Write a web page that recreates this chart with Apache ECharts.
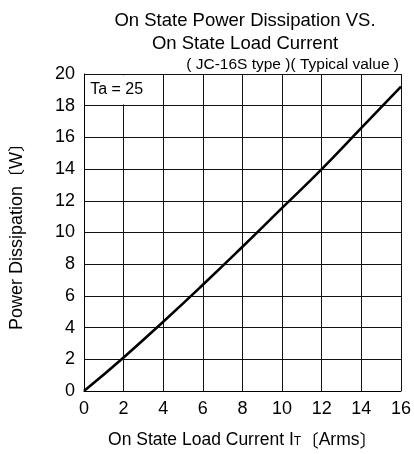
<!DOCTYPE html>
<html><head><meta charset="utf-8">
<script src="https://cdn.jsdelivr.net/npm/echarts@6/dist/echarts.min.js"></script>
<style>html,body{margin:0;padding:0;background:#fff}#c{width:414px;height:454px}</style>
</head><body><div id="c"></div>
<script>
const currentA = [0, 2, 4, 6, 8, 10, 12, 14, 16];
const powerW = [0, 2.12, 4.37, 6.7, 9.1, 11.55, 14.0, 16.6, 19.2];
const xTicks = [0, 2, 4, 6, 8, 10, 12, 14, 16];
const yTicks = [0, 2, 4, 6, 8, 10, 12, 14, 16, 18, 20];

const F = 'Liberation Sans, Arial, sans-serif';
const CJK = 'Noto Sans CJK JP';
const chart = echarts.init(document.getElementById('c'));
chart.setOption({
  animation: false,
  backgroundColor: '#fff',
  title: [
    {text: 'On State Power Dissipation VS.\nOn State Load Current', left: 240, top: 4, textAlign: 'center',
     textStyle: {fontFamily: F, fontSize: 18.5, fontWeight: 'normal', color: '#000', lineHeight: 23}},
    {text: '( JC-16S type )( Typical value )', right: 10, top: 52,
     textStyle: {fontFamily: F, fontSize: 15.5, fontWeight: 'normal', color: '#000', lineHeight: 16}}
  ],
  grid: {left: 84, right: 12, top: 74, bottom: 63},
  xAxis: {
    type: 'value', min: 0, max: 16, interval: 2,
    axisLine: {show: true, lineStyle: {color: '#000', width: 1}},
    axisTick: {show: false},
    splitLine: {show: true, lineStyle: {color: '#111', width: 1}},
    axisLabel: {fontFamily: F, fontSize: 18, color: '#000', margin: 9},
    name: '{n|On State Load Current I}{s|T}{b|〔}{n|Arms}{b|〕}', nameLocation: 'middle', nameGap: 40,
    nameTextStyle: {rich: {
      n: {fontFamily: F, fontSize: 17.5, color: '#000'},
      s: {fontFamily: F, fontSize: 12, color: '#000', padding: [4, 0, 0, 0]},
      b: {fontFamily: CJK, fontSize: 17.5, color: '#000'}}}
  },
  yAxis: {
    type: 'value', min: 0, max: 20, interval: 2,
    axisLine: {show: true, lineStyle: {color: '#000', width: 1}},
    axisTick: {show: false},
    splitLine: {show: true, lineStyle: {color: '#111', width: 1}},
    axisLabel: {fontFamily: F, fontSize: 18, color: '#000', margin: 9},
    name: '{n|Power Dissipation}{b|〔}{n|W}{b|〕}', nameLocation: 'middle', nameGap: 58,
    nameTextStyle: {rich: {
      n: {fontFamily: F, fontSize: 18, color: '#000'},
      b: {fontFamily: CJK, fontSize: 17, color: '#000'}}}
  },
  series: [{
    type: 'line', smooth: true, symbol: 'none',
    data: currentA.map((x, i) => [x, powerW[i]]),
    lineStyle: {color: '#000', width: 2.6},
    markArea: {
      silent: true,
      itemStyle: {color: '#fff', borderWidth: 0},
      label: {show: true, position: 'insideLeft', offset: [0, 0],
        formatter: 'Ta = 25', fontFamily: F, fontSize: 16, color: '#000'},
      data: [[{coord: [0.06, 18.08]}, {coord: [3.94, 19.92]}]]
    }
  }]
});
</script></body></html>
